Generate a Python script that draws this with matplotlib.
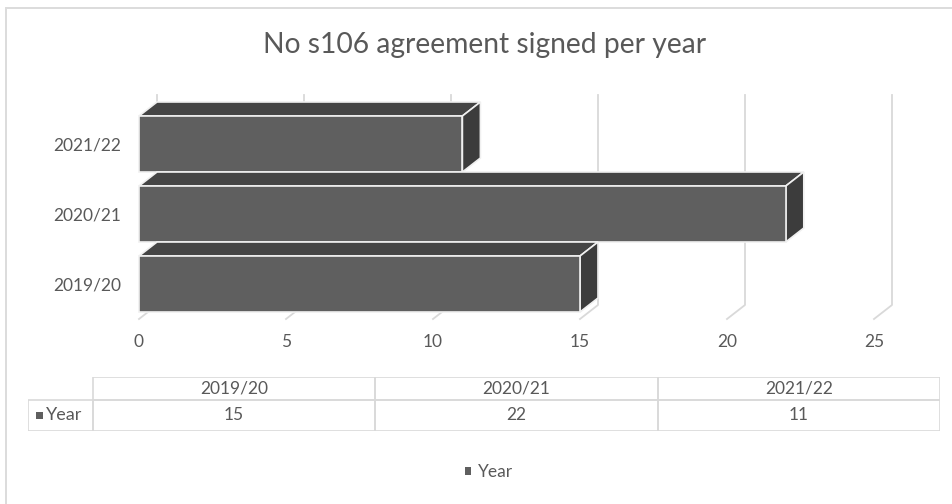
import matplotlib

matplotlib.use('Agg')

import matplotlib.pyplot as plt
from matplotlib.patches import Rectangle, Polygon, Patch

categories = ['2019/20', '2020/21', '2021/22']
values = [15, 22, 11]
x_ticks = [0, 5, 10, 15, 20, 25]
series_name = 'Year'
title = 'No s106 agreement signed per year'

plt.rcParams['font.family'] = ['Lato', 'DejaVu Sans']
TXT = '#595959'
GRID = '#d9d9d9'
FS = 12.5

W, H = 953, 504
fig = plt.figure(figsize=(W / 100, H / 100), dpi=100)

# outer chart frame (runs off the right/bottom of the picture)
fig.add_artist(Rectangle((6 / W, -0.1), 2, 1 - 8 / H + 0.1, transform=fig.transFigure,
                         fill=False, ec='#dcdcdc', lw=1.4))

fig.text(485 / W, 1 - 45 / H, title, ha='center', va='center', fontsize=20.3, color=TXT)

# front plane of the pseudo-3D plot
ax = fig.add_axes([139 / W, 1 - 319 / H, 735 / W, 210 / H])
ax.set_xlim(0, 25)
ax.set_ylim(-0.5, 2.5)
ax.patch.set_visible(False)
for s in ax.spines.values():
    s.set_visible(False)

# depth offset in data units
DX = 18 / (735 / 25)
DY = 14 / 70
bh = 0.8

for v in x_ticks:
    ax.plot([v, v + DX, v + DX], [-0.5, -0.5 + DY, 2.5 + DY], color=GRID, lw=1.3,
            clip_on=False, zorder=1)

for i in reversed(range(len(categories))):
    v = values[i]
    lo, hi = i - bh / 2, i + bh / 2
    z = 3 + (len(categories) - i)
    ec = '#f0f0f0'
    ax.add_patch(Polygon([(0, hi), (v, hi), (v + DX, hi + DY), (DX, hi + DY)],
                         fc='#454545', ec=ec, lw=1.2, clip_on=False, zorder=z))
    ax.add_patch(Polygon([(v, lo), (v + DX, lo + DY), (v + DX, hi + DY), (v, hi)],
                         fc='#3c3c3c', ec=ec, lw=1.2, clip_on=False, zorder=z))
    ax.add_patch(Rectangle((0, lo), v, bh, fc='#5f5f5f', ec=ec, lw=1.2,
                           clip_on=False, zorder=z))

ax.set_xticks(x_ticks)
ax.set_yticks(range(len(categories)), categories)
ax.tick_params(axis='both', length=0, labelsize=FS, colors=TXT)
ax.tick_params(axis='x', pad=11)
ax.tick_params(axis='y', pad=13)

# data table under the plot, drawn cell by cell
tax = fig.add_axes([28 / W, 1 - 431 / H, 912 / W, 54 / H])
tax.axis('off')
tax.set_xlim(0, 912)
tax.set_ylim(0, 54)
lab_w, col_w = 65, (912 - 65) / 3
row_h = 31
for j, c in enumerate(categories):
    x0 = lab_w + j * col_w
    tax.add_patch(Rectangle((x0, row_h), col_w, 54 - row_h, fill=False, ec=GRID, lw=1.2))
    tax.add_patch(Rectangle((x0, 0), col_w, row_h, fill=False, ec=GRID, lw=1.2))
    tax.text(x0 + col_w / 2, row_h + (54 - row_h) / 2, c, ha='center', va='center',
             fontsize=FS, color=TXT)
    tax.text(x0 + col_w / 2, row_h / 2, str(values[j]), ha='center', va='center',
             fontsize=FS, color=TXT)
tax.add_patch(Rectangle((0, 0), lab_w, row_h, fill=False, ec=GRID, lw=1.2))
tax.add_patch(Rectangle((8, row_h / 2 - 3.5), 7, 7, fc='#5f5f5f', ec='none'))
tax.text(18, row_h / 2, series_name, ha='left', va='center', fontsize=FS + 0.5, color=TXT)

fig.legend(handles=[Patch(facecolor='#5f5f5f')], labels=[series_name], loc='center',
           bbox_to_anchor=(489 / W, 1 - 472 / H), frameon=False, handlelength=0.35,
           handleheight=0.35, handletextpad=0.4, fontsize=FS, labelcolor=TXT)

fig.savefig('out.png', dpi=100)
